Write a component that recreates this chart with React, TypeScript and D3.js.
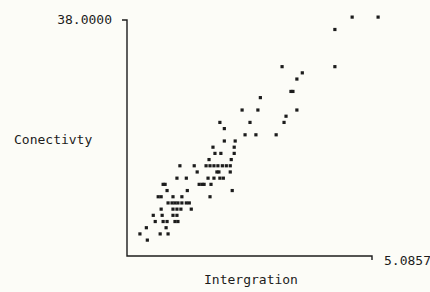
import * as d3 from "d3";

// integration (x) and connectivity (y) per point
const integration = [
  4.56, 5.0857, 4.21, 4.21, 3.14, 3.55, 3.44, 3.32, 3.36, 2.7,
  2.33, 2.65, 3.44, 3.22, 3.18, 2.49, 1.88, 1.97, 2.39, 2.61,
  3.02, 1.97, 2.19, 2.17, 1.74, 1.78, 1.9, 2.17, 1.66, 2.11,
  1.07, 1.36, 1.6, 1.68, 1.76, 1.84, 1.93, 2.01, 2.09,
  1.42, 1.82, 1.86, 2.09,
  1.01, 1.2, 1.64, 1.76, 1.88, 1.95,
  0.73, 0.77, 1.46, 1.52, 1.56, 1.7,
  0.81, 1.22, 2.13,
  0.63, 0.69, 0.93, 1.11, 1.68,
  0.83, 0.91, 0.97, 1.03, 1.11, 1.2, 1.26,
  0.69, 0.93, 1.01, 1.09, 1.3,
  0.53, 0.71, 0.93, 1.01,
  0.57, 0.73, 0.81, 0.97, 1.03,
  0.39, 0.79,
  0.26, 0.67, 0.83,
  0.41,
];
const connectivity = [
  38, 38, 36, 30, 30, 29, 28, 26, 26, 25,
  23, 23, 23, 22, 21, 21, 21, 20, 19, 19,
  19, 18, 18, 17, 17, 16, 16, 16, 15, 15,
  14, 14, 14, 14, 14, 14, 14, 14, 14,
  13, 13, 13, 13,
  12, 12, 12, 12, 12, 12,
  11, 11, 11, 11, 11, 11,
  10, 10, 10,
  9, 9, 9, 9, 9,
  8, 8, 8, 8, 8, 8, 8,
  7, 7, 7, 7, 7,
  6, 6, 6, 6,
  5, 5, 5, 5, 5,
  4, 4,
  3, 3, 3,
  2,
];

const xMax = 5.0857;
const yMax = 38;
const xMaxLabel = "5.0857";
const yMaxLabel = "38.0000";
const xTitle = "Intergration";
const yTitle = "Conectivty";

const W = 430;
const H = 292;
const frame = { left: 127, top: 20, right: 372, bottom: 256 };
const font = "'DejaVu Sans Mono', monospace";
const ink = "#1c1c1c";

export default function App() {
  const x = d3.scaleLinear().domain([0, xMax]).range([127, 378]);
  const y = d3.scaleLinear().domain([0, yMax]).range([252.4, 17]);
  const pts = integration.map((v, i) => ({ x: v, y: connectivity[i] }));

  return (
    <svg
      width={W}
      height={H}
      style={{ position: "absolute", left: 0, top: 0, background: "#fcfcf7" }}
    >
      {/* axes */}
      <path
        d={`M${frame.left - 5},${frame.top}H${frame.left}V${frame.bottom}H${frame.right}V${frame.bottom + 4}`}
        fill="none"
        stroke={ink}
        strokeWidth={1.4}
      />
      <text x={frame.left - 15} y={frame.top + 4} fontFamily={font} fontSize={13} fill={ink} textAnchor="end">
        {yMaxLabel}
      </text>
      <text x={frame.right + 12} y={frame.bottom + 9} fontFamily={font} fontSize={13} fill={ink}>
        {xMaxLabel}
      </text>
      <text x={14} y={144} fontFamily={font} fontSize={13} fill={ink}>
        {yTitle}
      </text>
      <text x={251} y={284} fontFamily={font} fontSize={13} fill={ink} textAnchor="middle">
        {xTitle}
      </text>

      {/* points */}
      {pts.map((d, i) => (
        <rect key={i} x={x(d.x) - 1.5} y={y(d.y) - 1.5} width={3.2} height={3.2} fill={ink} />
      ))}
    </svg>
  );
}
